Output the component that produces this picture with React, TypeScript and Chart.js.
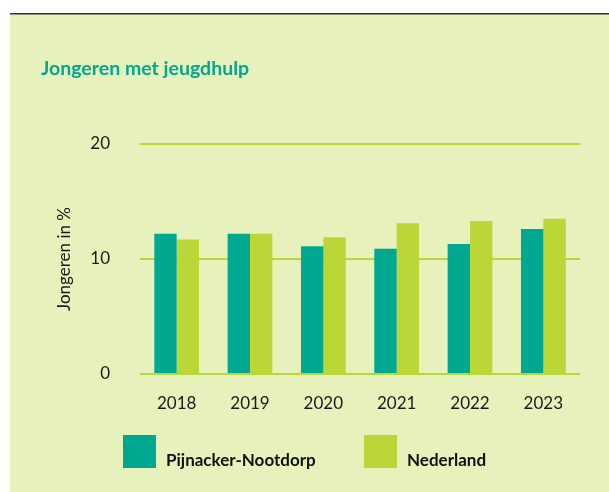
import { useEffect, useRef } from "react";
import { Chart, registerables } from "chart.js";

Chart.register(...registerables);

const years = ["2018", "2019", "2020", "2021", "2022", "2023"];
const pijnacker = [12.2, 12.2, 11.1, 10.9, 11.3, 12.6];
const nederland = [11.7, 12.2, 11.9, 13.1, 13.3, 13.5];
const seriesNames = ["Pijnacker-Nootdorp", "Nederland"];
const seriesColors = ["#00a88f", "#bbd637"];
const yMin = 0;
const yMax = 20;
const yStep = 10;
const chartTitle = "Jongeren met jeugdhulp";
const yTitle = "Jongeren in %";

const FONT = "Lato, sans-serif";

const framePlugin = {
  id: "frame",
  beforeDraw(chart: any) {
    const ctx = chart.ctx;
    ctx.save();
    ctx.fillStyle = "#ffffff";
    ctx.fillRect(0, 0, chart.width, chart.height);
    ctx.fillStyle = "#e7f1bc";
    ctx.fillRect(10, 15, chart.width - 10, chart.height - 15);
    ctx.fillStyle = "#333333";
    ctx.fillRect(10, 13, chart.width - 10, 1);
    ctx.fillStyle = "#8c9070";
    ctx.fillRect(10, 14, chart.width - 10, 1);
    ctx.restore();
  },
  afterDraw(chart: any) {
    const ctx = chart.ctx;
    ctx.save();
    ctx.fillStyle = "#00a88f";
    ctx.font = `bold 19.5px ${FONT}`;
    ctx.textBaseline = "alphabetic";
    ctx.textAlign = "left";
    ctx.fillText(chartTitle, 41, 75);

    const items = chart.data.datasets.map((d: any, i: number) => ({
      label: d.label,
      color: d.backgroundColor,
      x: i === 0 ? 123 : 364,
    }));
    ctx.font = `bold 17px ${FONT}`;
    items.forEach((it: any) => {
      ctx.fillStyle = it.color;
      ctx.fillRect(it.x, 435, 33, 33);
      ctx.fillStyle = "#111111";
      ctx.fillText(it.label, it.x + 43, 466);
    });
    ctx.restore();
  },
};

export default function App() {
  const ref = useRef<HTMLCanvasElement | null>(null);
  useEffect(() => {
    if (!ref.current) return;
    const chart = new Chart(ref.current, {
      type: "bar",
      data: {
        labels: years,
        datasets: [
          {
            label: seriesNames[0],
            data: pijnacker,
            backgroundColor: seriesColors[0],
            borderWidth: 0,
            barPercentage: 1,
            categoryPercentage: 0.61,
          },
          {
            label: seriesNames[1],
            data: nederland,
            backgroundColor: seriesColors[1],
            borderWidth: 0,
            barPercentage: 1,
            categoryPercentage: 0.61,
          },
        ],
      },
      options: {
        animation: false,
        responsive: false,
        maintainAspectRatio: false,
        devicePixelRatio: 1,
        layout: { padding: { top: 144, right: 29, bottom: 78, left: 0 } },
        plugins: {
          legend: { display: false },
          title: { display: false },
          tooltip: { enabled: false },
        },
        scales: {
          x: {
            grid: { display: false, drawTicks: false },
            border: { display: false },
            ticks: {
              color: "#1a1a1a",
              font: { family: FONT, size: 17 },
              padding: 19,
              maxRotation: 0,
            },
            afterFit(scale: any) {
              scale.height = 40;
            },
          },
          y: {
            min: yMin,
            max: yMax,
            grid: { color: "#bbd637", lineWidth: 2, drawTicks: false },
            border: { display: false },
            ticks: {
              stepSize: yStep,
              color: "#1a1a1a",
              font: { family: FONT, size: 17 },
              padding: 30,
            },
            title: {
              display: true,
              text: yTitle,
              color: "#1a1a1a",
              font: { family: FONT, size: 17 },
              padding: { top: 54, bottom: 0 },
            },
            afterFit(scale: any) {
              scale.width = 140;
            },
          },
        },
      },
      plugins: [framePlugin],
    });
    return () => chart.destroy();
  }, []);
  return (
    <div style={{ position: "absolute", left: 0, top: 0, width: 609, height: 492 }}>
      <canvas ref={ref} width={609} height={492} style={{ display: "block", width: 609, height: 492 }} />
    </div>
  );
}
